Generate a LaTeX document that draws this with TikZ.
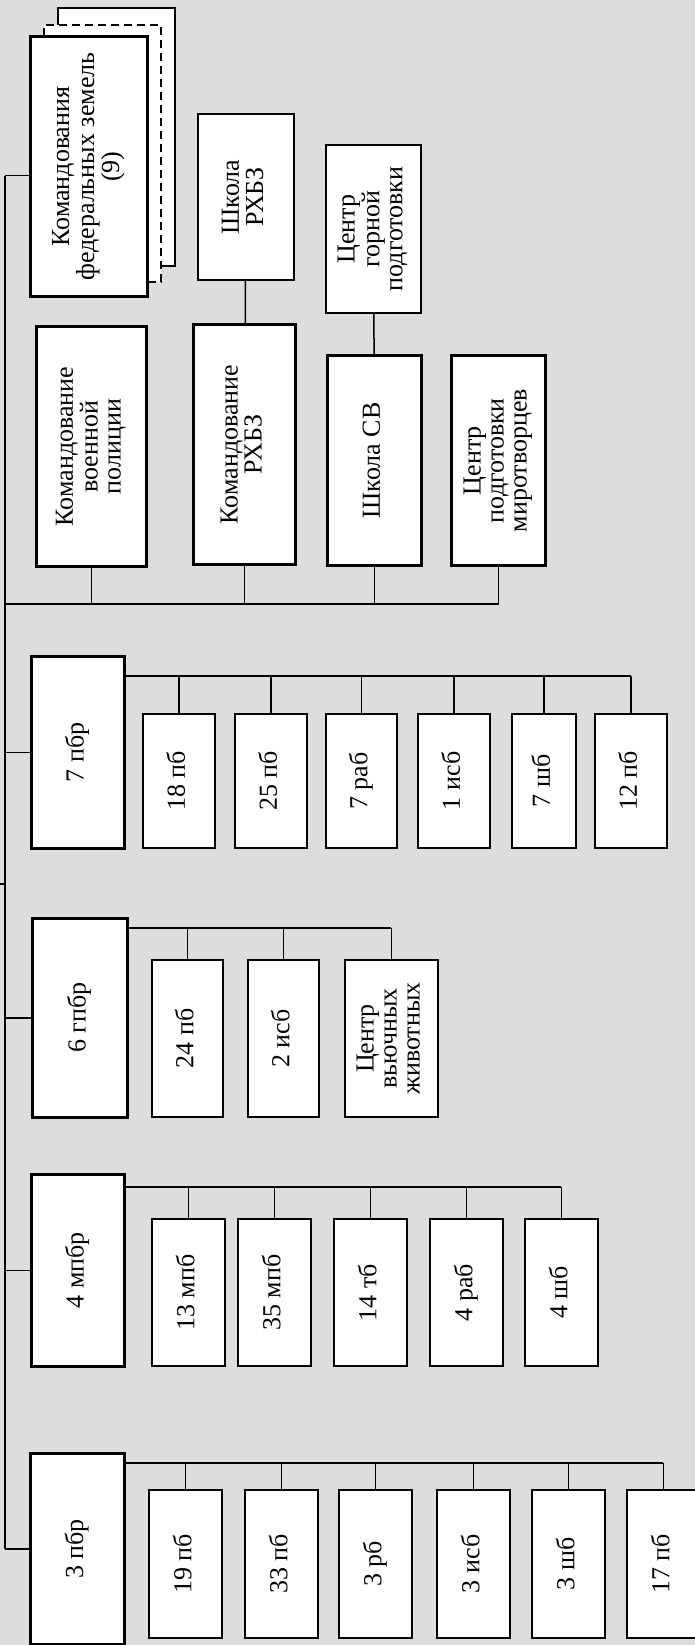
\documentclass[tikz,border=0pt]{standalone}
\usepackage{fontspec}
\setmainfont{Liberation Serif}
\usepackage{graphicx}
\usetikzlibrary{calc}
\definecolor{bggray}{RGB}{221,221,221}
\newcommand{\vlbl}[1]{\rotatebox{90}{\begin{tabular}{@{}c@{}}#1\end{tabular}}}
\tikzset{
  orgbox/.style={draw=black,fill=white,anchor=north west,inner sep=0pt,
    line width=2pt,font=\fontsize{26}{23}\selectfont},
  cmdbox/.style={orgbox,line width=3.2pt},
  brbox/.style={orgbox,line width=2.6pt},
  unitbox/.style={orgbox,line width=1.9pt},
  boxsize/.style 2 args={minimum width=#1pt,minimum height=#2pt},
  orgline/.style={line width=1.5pt},
}

\begin{document}
\begin{tikzpicture}[x=1pt,y=-1pt]
  \useasboundingbox (0,0) rectangle (695,1645);
  \clip (0,0) rectangle (695,1645);
  \fill[bggray] (0,0) rectangle (695,1645);
  \coordinate (sp) at (5,0);
  \coordinate (root) at (-10,884);
  \node[unitbox,boxsize={117}{258}] (fedb) at (57,7) {};
  \node[unitbox,dash pattern=on 8pt off 5pt,boxsize={117}{257}] (fedc) at (43,24) {};
  \node[cmdbox,boxsize={117}{260}] (fed) at (29,35) {\vlbl{Командования\\федеральных земель\\(9)}};
  \coordinate (fedin) at ($(fed.west)+(0,9)$);
  \node[cmdbox,boxsize={110}{240}] (mp) at (35,325) {\vlbl{Командование\\военной\\полиции}};
  \node[unitbox,boxsize={96}{166}] (srhbz) at (197,113) {\vlbl{Школа\\РХБЗ}};
  \node[cmdbox,boxsize={102}{240}] (rhbz) at (192,323) {\vlbl{Командование\\РХБЗ}};
  \node[unitbox,boxsize={95}{168}] (cgp) at (325,144) {\vlbl{Центр\\горной\\подготовки}};
  \node[cmdbox,boxsize={94}{210}] (ssv) at (326,354) {\vlbl{Школа СВ}};
  \node[cmdbox,boxsize={94}{210}] (cpm) at (450,354) {\vlbl{Центр\\подготовки\\миротворцев}};
  \draw[orgline] (srhbz) -- (rhbz) (cgp) -- (ssv);
  \coordinate (sb) at (0,604);
  \draw[orgline] (sp |- sb) -- (cpm.south |- sb);
  \foreach \n in {mp,rhbz,ssv,cpm} \draw[orgline] (\n.south) -- (\n.south |- sb);

  \node[brbox,boxsize={93}{192}] (p7) at (30,655) {\vlbl{7 пбр}};
  \foreach \i/\x/\w/\t in {1/142/72/18 пб,2/234/72/25 пб,3/325/71/7 раб,4/417/72/1 исб,5/511/64/7 шб,6/594/72/12 пб}
    \node[unitbox,boxsize={\w}{134}] (c7\i) at (\x,713) {\vlbl{\t}};
  \coordinate (b7) at (0,676);
  \draw[orgline] (p7.east |- b7) -- (c76.north |- b7);
  \foreach \i in {1,...,6} \draw[orgline] (c7\i.north) -- (c7\i.north |- b7);

  \node[brbox,boxsize={95}{199}] (p6) at (31,917) {\vlbl{6 гпбр}};
  \foreach \i/\x/\t in {1/151/24 пб,2/247/2 исб}
    \node[unitbox,boxsize={71}{157}] (c6\i) at (\x,959) {\vlbl{\t}};
  \node[unitbox,boxsize={93}{157}] (c63) at (344,959) {\vlbl{Центр\\вьючных\\животных}};
  \coordinate (b6) at (0,928);
  \draw[orgline] (p6.east |- b6) -- (c63.north |- b6);
  \foreach \i in {1,...,3} \draw[orgline] (c6\i.north) -- (c6\i.north |- b6);

  \node[brbox,boxsize={93}{192}] (p4) at (30,1173) {\vlbl{4 мпбр}};
  \foreach \i/\x/\t in {1/151/13 мпб,2/237/35 мпб,3/333/14 тб,4/429/4 раб,5/524/4 шб}
    \node[unitbox,boxsize={73}{147}] (c4\i) at (\x,1218) {\vlbl{\t}};
  \coordinate (b4) at (0,1187);
  \draw[orgline] (p4.east |- b4) -- (c45.north |- b4);
  \foreach \i in {1,...,5} \draw[orgline] (c4\i.north) -- (c4\i.north |- b4);

  \node[brbox,boxsize={94}{191}] (p3) at (29,1452) {\vlbl{3 пбр}};
  \foreach \i/\x/\t in {1/148/19 пб,2/244/33 пб,3/338/3 рб,4/436/3 исб,5/531/3 шб,6/626/17 пб}
    \node[unitbox,boxsize={73}{148}] (c3\i) at (\x,1489) {\vlbl{\t}};
  \coordinate (b3) at (0,1463);
  \draw[orgline] (p3.east |- b3) -- (c36.north |- b3);
  \foreach \i in {1,...,6} \draw[orgline] (c3\i.north) -- (c3\i.north |- b3);

  \draw[orgline] (sp |- fedin) -- (sp |- p3.west);
  \draw[orgline] (sp |- fedin) -- (fedin);
  \foreach \n in {p7,p6,p4,p3} \draw[orgline] (sp |- \n.west) -- (\n.west);
  \draw[orgline] (sp |- root) -- (root);
\end{tikzpicture}
\end{document}
